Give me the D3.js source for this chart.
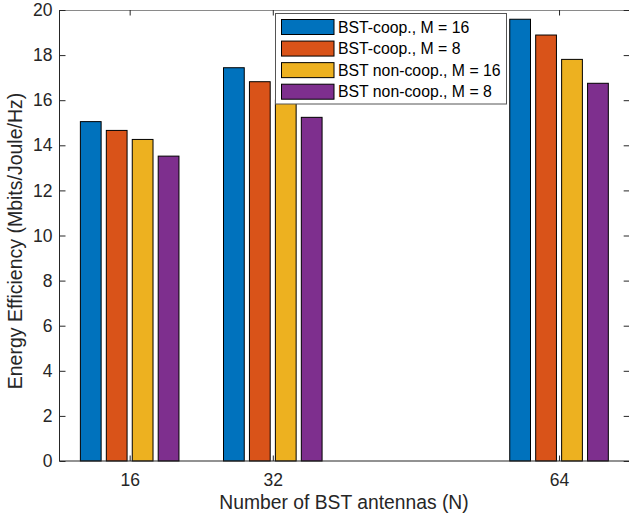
<!DOCTYPE html>
<html>
<head>
<meta charset="utf-8">
<script src="https://cdn.jsdelivr.net/npm/d3@7"></script>
<style>
  html, body { margin: 0; padding: 0; background: #fff; }
  svg { display: block; font-family: "Liberation Sans", Arial, Helvetica, sans-serif; }
</style>
</head>
<body>
<svg id="chart" width="629" height="520"></svg>
<script>
// data
const antennas = [16, 32, 64];
const seriesNames = [
  "BST-coop., M = 16",
  "BST-coop., M = 8",
  "BST non-coop., M = 16",
  "BST non-coop., M = 8"
];
const coop16 = [15.05, 17.44, 19.59];
const coop8 = [14.66, 16.82, 18.89];
const noncoop16 = [14.26, 16.0, 17.81];
const noncoop8 = [13.52, 15.24, 16.75];
const yTicks = [0, 2, 4, 6, 8, 10, 12, 14, 16, 18, 20];

const seriesValues = [coop16, coop8, noncoop16, noncoop8];
const colors = ["#0072BD", "#D95319", "#EDB120", "#7E2F8E"];
const axisColor = "#262626";

const svg = d3.select("#chart");
const mLeft = 59, mRight = 629.7, mTop = 10, mBottom = 461;

const x = d3.scaleLinear().domain([8.1, 71.9]).range([mLeft, mRight]);
const y = d3.scaleLinear().domain([0, 20]).range([mBottom, mTop]);

// grouped bar layout: 4 bars with a pitch of 2.9 units of N
const groupSpan = x(16 + 4 * 2.9) - x(16);
const inner = d3.scaleBand().domain(d3.range(seriesNames.length))
  .range([-groupSpan / 2, groupSpan / 2])
  .paddingInner(0.2).paddingOuter(0.1);

const rows = [];
antennas.forEach((n, gi) => {
  seriesValues.forEach((vals, si) => rows.push({ n, si, v: vals[gi] }));
});

svg.append("g")
  .selectAll("rect")
  .data(rows)
  .join("rect")
  .attr("x", d => x(d.n) + inner(d.si))
  .attr("y", d => y(d.v))
  .attr("width", inner.bandwidth())
  .attr("height", d => y(0) - y(d.v))
  .attr("fill", d => colors[d.si])
  .attr("stroke", "#000")
  .attr("stroke-width", 1);

// axes box
const box = svg.append("g");
box.append("line").attr("x1", mLeft).attr("x2", mRight).attr("y1", mTop + 0.5).attr("y2", mTop + 0.5)
  .attr("stroke", "#8a8a8a").attr("stroke-width", 1);
box.append("line").attr("x1", mLeft).attr("x2", mRight).attr("y1", mBottom).attr("y2", mBottom)
  .attr("stroke", axisColor).attr("stroke-width", 1.2);
box.append("line").attr("x1", mLeft + 0.5).attr("x2", mLeft + 0.5).attr("y1", mTop).attr("y2", mBottom)
  .attr("stroke", axisColor).attr("stroke-width", 1);

// y axis (left) with inward ticks
const yAxis = svg.append("g")
  .attr("transform", `translate(${mLeft + 0.5},0)`)
  .call(d3.axisLeft(y).tickValues(yTicks).tickSizeInner(-6).tickSizeOuter(0).tickPadding(12));
yAxis.select(".domain").remove();
yAxis.selectAll("line").attr("stroke", axisColor);
yAxis.selectAll("text").attr("fill", axisColor).style("font-size", "17.5px")
  .attr("x", -7);

// right ticks
const yRight = svg.append("g")
  .attr("transform", `translate(${mRight},0)`)
  .call(d3.axisRight(y).tickValues(yTicks).tickSizeInner(-6).tickSizeOuter(0).tickFormat(""));
yRight.select(".domain").remove();
yRight.selectAll("line").attr("stroke", axisColor);

// x axis bottom
const xAxis = svg.append("g")
  .attr("transform", `translate(0,${mBottom})`)
  .call(d3.axisBottom(x).tickValues(antennas).tickSizeInner(-5.5).tickSizeOuter(0).tickPadding(13));
xAxis.select(".domain").remove();
xAxis.selectAll("line").attr("stroke", axisColor);
xAxis.selectAll("text").attr("fill", axisColor).style("font-size", "17.5px").attr("y", 12.5);

// x axis top ticks
const xTop = svg.append("g")
  .attr("transform", `translate(0,${mTop})`)
  .call(d3.axisTop(x).tickValues(antennas).tickSizeInner(-5.5).tickSizeOuter(0).tickFormat(""));
xTop.select(".domain").remove();
xTop.selectAll("line").attr("stroke", axisColor);

// axis labels
svg.append("text")
  .attr("x", 344)
  .attr("y", 509)
  .attr("text-anchor", "middle")
  .attr("fill", axisColor)
  .style("font-size", "19.3px")
  .text("Number of BST antennas (N)");

svg.append("text")
  .attr("transform", "translate(21.5,241) rotate(-90)")
  .attr("text-anchor", "middle")
  .attr("fill", axisColor)
  .style("font-size", "19.5px")
  .text("Energy Efficiency (Mbits/Joule/Hz)");

// legend
const lg = svg.append("g");
lg.append("rect")
  .attr("x", 275.5).attr("y", 13.5).attr("width", 231).attr("height", 90.5)
  .attr("fill", "#fff").attr("stroke", "#555").attr("stroke-width", 1);

const legendRow = d3.scaleLinear().domain([0, 3]).range([27, 91.7]);
const item = lg.selectAll(".item")
  .data(seriesNames)
  .join("g")
  .attr("class", "item")
  .attr("transform", (d, i) => `translate(0,${legendRow(i)})`);
item.append("rect")
  .attr("x", 281.5).attr("y", -7.5).attr("width", 52.5).attr("height", 15)
  .attr("fill", (d, i) => colors[i])
  .attr("stroke", "#000").attr("stroke-width", 1);
item.append("text")
  .attr("x", 338)
  .attr("dy", "0.36em")
  .attr("fill", "#000")
  .style("font-size", "15.8px")
  .text(d => d);
</script>
</body>
</html>
